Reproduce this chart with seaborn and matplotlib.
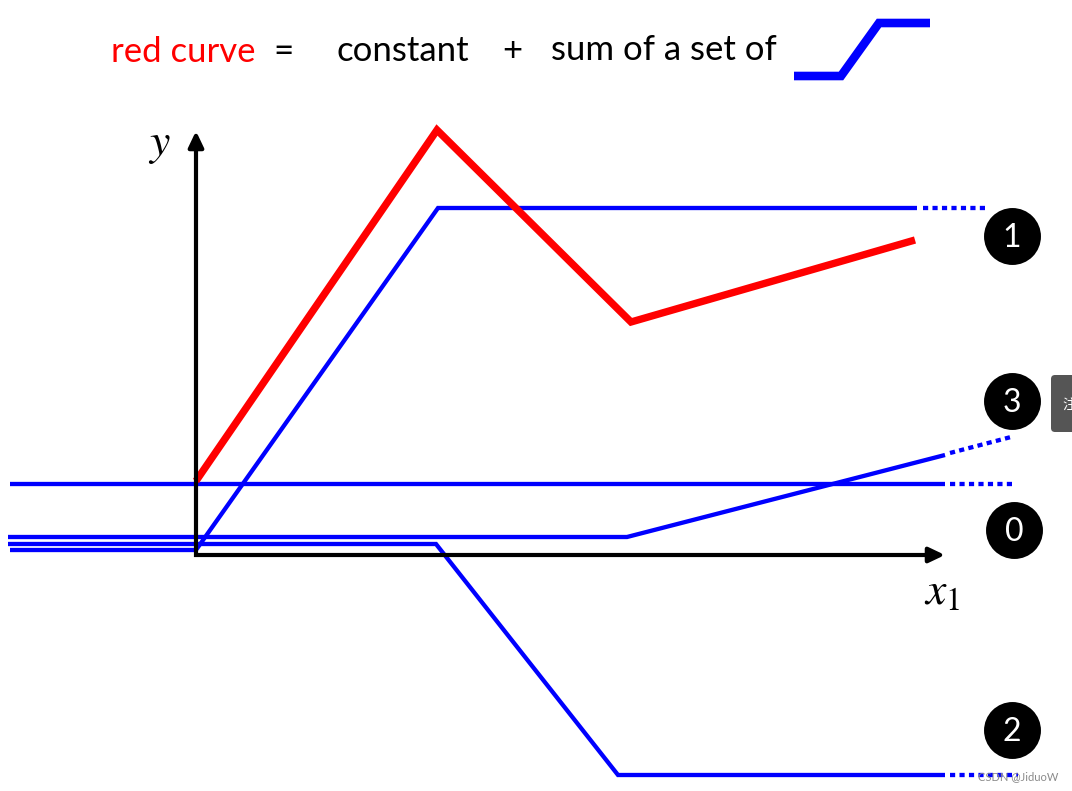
import matplotlib
matplotlib.use("Agg")
import matplotlib.pyplot as plt
import seaborn as sns
from matplotlib.patches import FancyBboxPatch

# values (axes run in picture pixels)
red_x = [196, 437, 631, 915]
red_y = [481, 130, 322, 240]

blue1_x = [10, 196, 438, 917]
blue1_y = [550, 550, 208, 208]
blue1_dot_x = [923, 986]
blue1_dot_y = [208, 208]

blue0_x = [10, 945]
blue0_y = [484, 484]
blue0_dot_x = [950, 1013]
blue0_dot_y = [484, 484]

blue3_x = [8, 627, 945]
blue3_y = [537, 537, 455]
blue3_dot_x = [950, 1011]
blue3_dot_y = [453, 437]

blue2_x = [8, 436, 618, 945]
blue2_y = [544, 544, 775, 775]
blue2_dot_x = [950, 1018]
blue2_dot_y = [775, 775]

icon_x = [794, 841, 879, 930]
icon_y = [76, 76, 23, 23]

badge_x = [1012, 1012, 1014, 1012]
badge_y = [236, 401, 530, 730]
badge_labels = ["1", "3", "0", "2"]

sns.set_theme(style="white")
plt.rcParams['font.family'] = ['Lato', 'Noto Sans CJK SC', 'DejaVu Sans']
plt.rcParams['mathtext.fontset'] = 'stix'

fig = plt.figure(figsize=(10.72, 7.91), dpi=100)
ax = fig.add_axes([0, 0, 1, 1])


def draw_line(xs, ys, color="#0000ff", lw=3.1, **kw):
    sns.lineplot(x=xs, y=ys, sort=False, estimator=None, color=color, linewidth=lw, ax=ax,
                 solid_capstyle="butt", solid_joinstyle="miter", dash_capstyle="butt", **kw)


# axes of the sketch
ax.annotate("", xy=(945, 555), xytext=(194, 555),
            arrowprops=dict(arrowstyle="-|>,head_length=0.8,head_width=0.38", color="black", lw=3, shrinkA=0, shrinkB=0, capstyle="butt"))
ax.annotate("", xy=(196, 131), xytext=(196, 557),
            arrowprops=dict(arrowstyle="-|>,head_length=0.8,head_width=0.38", color="black", lw=3, shrinkA=0, shrinkB=0, capstyle="butt"))

draw_line(blue1_x, blue1_y)
draw_line(blue0_x, blue0_y)
draw_line(blue3_x, blue3_y)
draw_line(blue2_x, blue2_y)
draw_line(red_x, red_y, color="#ff0000", lw=5.3)

for xs, ys in [(blue1_dot_x, blue1_dot_y), (blue0_dot_x, blue0_dot_y),
               (blue3_dot_x, blue3_dot_y), (blue2_dot_x, blue2_dot_y)]:
    draw_line(xs, ys, linestyle=(0, (1.2, 1.0)))

draw_line(icon_x, icon_y, lw=6.2)

sns.scatterplot(x=badge_x, y=badge_y, color="black", s=1680, linewidth=0, ax=ax, zorder=4)
for bx, by, lab in zip(badge_x, badge_y, badge_labels):
    ax.text(bx, by + 2, lab, color="white", fontsize=23, ha="center", va="center", zorder=5)

# title row
ax.text(111, 52, "red curve", color="#ff0000", fontsize=25, ha="left", va="center")
ax.text(273, 52, "=", color="black", fontsize=25, ha="left", va="center")
ax.text(336, 51, "constant", color="black", fontsize=25, ha="left", va="center")
ax.text(502, 51, "+", color="black", fontsize=25, ha="left", va="center")
ax.text(551, 50, "sum of a set of", color="black", fontsize=25, ha="left", va="center")

ax.text(159, 145, r"$y$", color="black", fontsize=33, ha="center", va="center")
ax.text(942, 591, r"$x_1$", color="black", fontsize=33, ha="center", va="center")

# page widget on the right edge and the watermark
tab = FancyBboxPatch((1051, 375), 43, 57, boxstyle="round,pad=0,rounding_size=4",
                     facecolor="#555555", edgecolor="none", zorder=3)
ax.add_patch(tab)
ax.text(1062, 404, "注", color="white", fontsize=10, ha="left", va="center", zorder=4)
ax.text(978, 777, "CSDN @JiduoW", color="#8a8a8a", fontsize=8, ha="left", va="center", zorder=6)

ax.set_xlim(0, 1072)
ax.set_ylim(791, 0)
ax.axis("off")

fig.savefig("out.png", dpi=100, facecolor="white")
